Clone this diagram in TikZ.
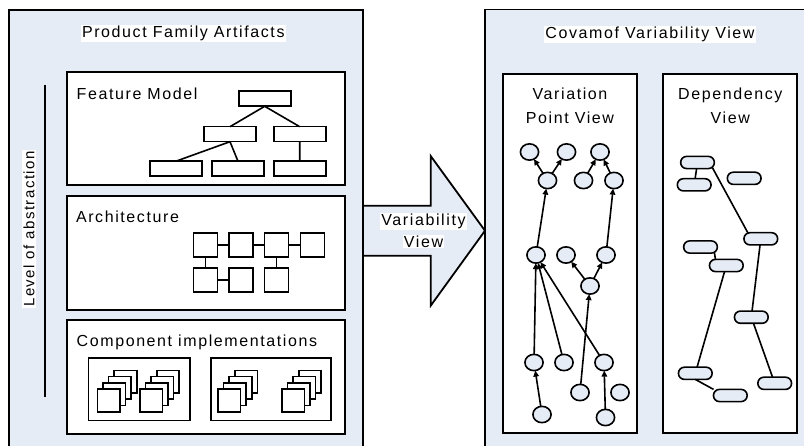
\documentclass[tikz,border=0pt]{standalone}
\usepackage{fontspec}
\setmainfont{Liberation Sans}[LetterSpace=10]
\usetikzlibrary{arrows.meta,shapes.geometric,calc}
\definecolor{paleblue}{RGB}{230,236,246}
\newcommand\onwhite[1]{{\setlength\fboxsep{1pt}\colorbox{white}{#1}}}

\begin{document}
\begin{tikzpicture}[x=1pt,y=-1pt,
  every node/.style={inner sep=0pt, outer sep=0pt},
  panel/.style={rectangle, draw, line width=1.8pt, anchor=north west},
  lbl/.style={font=\fontsize{16}{19}\selectfont},
  twoline/.style={font=\fontsize{16}{24}\selectfont, align=center, anchor=base},
  feat/.style={rectangle, draw, fill=white, line width=1.6pt, minimum width=52pt, minimum height=15pt},
  comp/.style={rectangle, draw, fill=white, line width=1.6pt, minimum width=24pt, minimum height=24pt},
  blk/.style={rectangle, draw, fill=white, line width=1.6pt, minimum width=22.5pt, minimum height=22.5pt},
  vp/.style={ellipse, draw, fill=paleblue, line width=1.6pt, minimum width=18.2pt, minimum height=16.3pt},
  pill/.style={rectangle, rounded corners=6pt, draw, fill=paleblue, line width=1.6pt, minimum width=33.7pt, minimum height=12.2pt},
  link/.style={line width=1.6pt},
  dep/.style={line width=1.6pt, -{Triangle[length=6pt,width=5.5pt]}},
]
\useasboundingbox (0,0) rectangle (804,446);
\clip (0,0) rectangle (804,446);

% ---------------- left panel: product family artifacts ----------------
\node[panel, fill=paleblue, minimum width=354pt, minimum height=450pt] (pfa) at (9,10) {};
\node[lbl, anchor=base] (pfatitle) at (183.3,37.3) {\onwhite{Product Family Artifacts}};

\node[font=\fontsize{15}{18}\selectfont, rotate=90] (level) at (29,229) {\onwhite{Level of abstraction}};
\coordinate (lvtop) at (45,85);
\coordinate (lvbot) at (45,397.3);
\draw[link] (lvtop) -- (lvbot);

\node[panel, fill=white, minimum width=278.3pt, minimum height=113.3pt] (fm) at (66.7,71.7) {};
\node[panel, fill=white, minimum width=278.3pt, minimum height=114pt] (arch) at (66.7,196) {};
\node[panel, fill=white, minimum width=278.3pt, minimum height=114pt] (ci) at (66.7,320) {};

\node[lbl, anchor=base west] (fmlbl) at (76.7,100) {Feature Model};
\node[lbl, anchor=base west] (archlbl) at (76,222.7) {Architecture};
\node[lbl, anchor=base west] (cilbl) at (76.7,346.7) {Component implementations};

% feature tree
\node[feat] (f0) at (264.7,98.8) {};
\node[feat] (f1) at (230,134.2) {};
\node[feat] (f2) at (299.7,134.2) {};
\node[feat] (f3) at (175.7,168.8) {};
\node[feat] (f4) at (238,168.8) {};
\node[feat] (f5) at (299.7,168.8) {};
\draw[link] (f0.south) -- (f1.north) (f0.south) -- (f2.north)
            (f1.south) -- (f3.north) (f1.south) -- (f4.north)
            (f2.south) -- (f5.north);

% architecture components
\node[comp] (s11) at (205.5,245) {};
\node[comp] (s12) at (240.8,245) {};
\node[comp] (s13) at (276.3,245) {};
\node[comp] (s14) at (312.5,245) {};
\node[comp] (s21) at (205.5,279.8) {};
\node[comp] (s22) at (240.8,279.8) {};
\node[comp] (s23) at (276.3,279.8) {};
\draw[link] (s11) -- (s12) (s12) -- (s13) (s13) -- (s14)
            (s11) -- (s21) (s21) -- (s22) (s13) -- (s23);

% implementation libraries with stacked components
\node[panel, line width=1.6pt, fill=white, minimum width=101.7pt, minimum height=62.5pt] (libA) at (88.3,358) {};
\node[panel, line width=1.6pt, fill=white, minimum width=120.3pt, minimum height=62.5pt] (libB) at (210.7,358) {};
\foreach \n/\cx in {1/108.7, 2/151.2, 3/229.3, 4/293.2} {
  \foreach \k in {3,2,1,0} {
    \node[blk] (st\n-\k) at (\cx+5.6*\k, 400.5-6.3*\k) {};
  }
}

% ---------------- transition arrow ----------------
\draw[line width=1.8pt, fill=paleblue, line join=miter]
  (363,205.7) -- (430.7,205.7) -- (430.7,156) -- (485,230.7)
  -- (430.7,305.7) -- (430.7,255.7) -- (363,255.7) -- cycle;
\node[font=\fontsize{16}{21.3}\selectfont, align=center, anchor=base] (vv) at (423.5,247.3)
  {\onwhite{Variability}\\\onwhite{View}};

% ---------------- right panel: COVAMOF variability view ----------------
\node[panel, fill=paleblue, minimum width=340pt, minimum height=450pt] (cvv) at (485,9.5) {};
\node[lbl, anchor=base] (cvvtitle) at (650,38.7) {\onwhite{Covamof Variability View}};

\node[panel, fill=white, minimum width=134.6pt, minimum height=359.3pt] (vpv) at (502.7,74) {};
\node[panel, fill=white, minimum width=134pt, minimum height=359.3pt] (dv) at (663.3,74) {};
\node[twoline] (vpvlbl) at (570,124) {Variation\\Point View};
\node[twoline] (dvlbl) at (730.3,124) {Dependency\\View};

% variation points
\node[vp] (a1) at (529.5,152) {};
\node[vp] (a2) at (566.5,152) {};
\node[vp] (a3) at (600,152) {};
\node[vp] (b1) at (547.5,180.5) {};
\node[vp] (b2) at (583.5,180.5) {};
\node[vp] (b3) at (614,180.5) {};
\node[vp] (c1) at (536,255) {};
\node[vp] (c2) at (566,255) {};
\node[vp] (c3) at (606,255) {};
\node[vp] (d1) at (590,286) {};
\node[vp] (e1) at (534,362.5) {};
\node[vp] (e2) at (564,362.5) {};
\node[vp] (e3) at (604,362.5) {};
\node[vp] (f1v) at (580,392.5) {};
\node[vp] (f2v) at (620,392.5) {};
\node[vp] (g1) at (542,414.5) {};
\node[vp] (g2) at (605.5,417.5) {};

\draw[dep] (b1) -- (a1);
\draw[dep] (b1) -- (a2);
\draw[dep] (b2) -- (a3);
\draw[dep] (b3) -- (a3);
\draw[dep] (c1) -- (b1);
\draw[dep] (c3) -- (b3);
\draw[dep] (d1) -- (c2);
\draw[dep] (d1) -- (c3);
\draw[dep] (e1) -- (c1);
\draw[dep] (e2) -- (c1);
\draw[dep] (e3) -- (c1);
\draw[dep] (f1v) -- (d1);
\draw[dep] (g1) -- (e1);
\draw[dep] (g2) -- (e3);

% dependencies
\node[pill] (p1) at (697.5,162.5) {};
\node[pill] (p2) at (694.2,184.8) {};
\node[pill] (p3) at (744.2,178.3) {};
\node[pill] (p4) at (760.8,238.8) {};
\node[pill] (p5) at (700.5,247) {};
\node[pill] (p6) at (726.3,265.5) {};
\node[pill] (p7) at (751.3,317.2) {};
\node[pill] (p8) at (695.3,373.3) {};
\node[pill] (p9) at (730.3,395.5) {};
\node[pill] (p10) at (774.7,383.3) {};

\draw[link] (p1) -- (p2);
\draw[link] ($(p1.south east)+(-2,-1)$) -- ($(p4.north)+(-13,0)$);
\draw[link] ($(p5.south east)+(-3,-1)$) -- ($(p6.north west)+(6,0)$);
\draw[link] (p4) -- (p7);
\draw[link] (p6) -- (p8);
\draw[link] (p7) -- (p10);
\draw[link] (p8.south) -- (p9.160);
\end{tikzpicture}
\end{document}
